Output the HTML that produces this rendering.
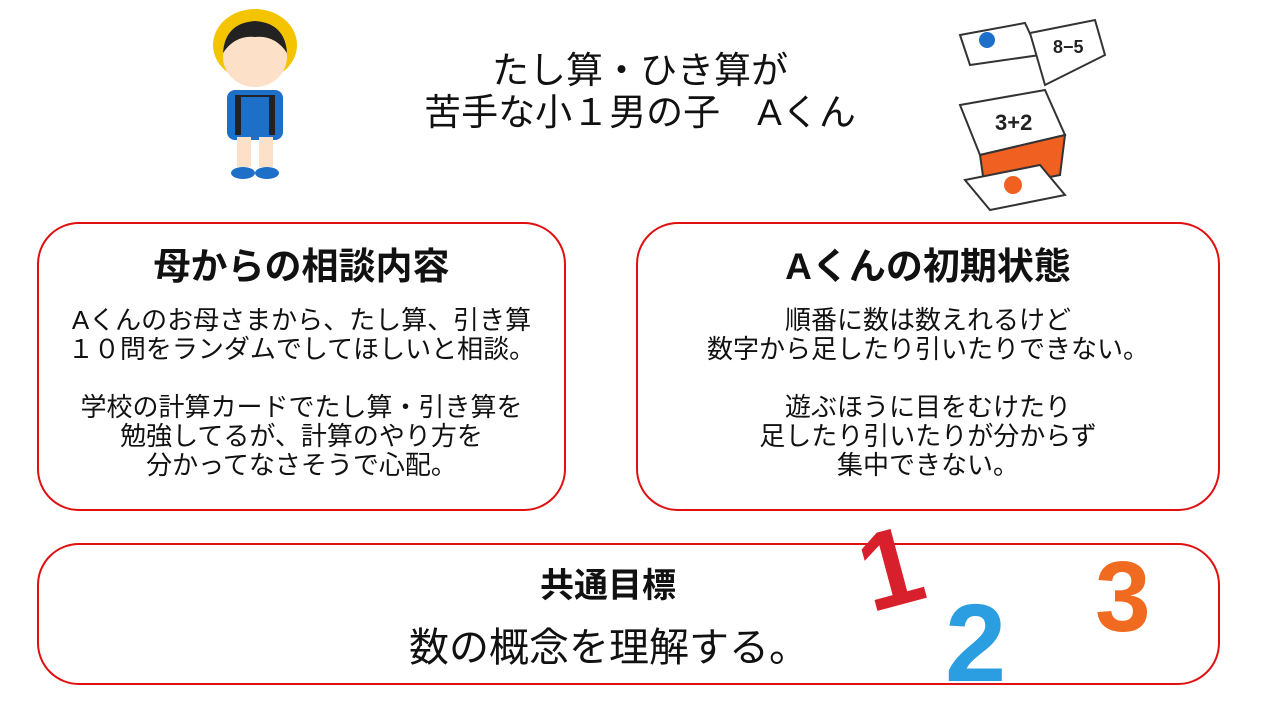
<!DOCTYPE html>
<html><head><meta charset="utf-8"><style>
*{margin:0;padding:0;box-sizing:border-box}
body{width:1280px;height:720px;background:#fff;position:relative;overflow:hidden;font-family:"Liberation Sans","Noto Sans CJK JP",sans-serif;color:#111}
.t{position:absolute;white-space:nowrap;text-align:center}
.box{position:absolute;border:2px solid #e01010;border-radius:42px;background:#fff}
</style></head><body>
<div class="t" style="left:340px;width:600px;top:50px;font-size:37px;line-height:42px">たし算・ひき算が<br>苦手な小１男の子　Aくん</div>

<div class="box" style="left:37px;top:222px;width:529px;height:289px"></div>
<div class="t" style="left:37px;width:529px;top:236px;font-size:37px;font-weight:bold">母からの相談内容</div>
<div class="t" style="left:37px;width:529px;top:306px;font-size:26px;line-height:29px">Aくんのお母さまから、たし算、引き算<br>１０問をランダムでしてほしいと相談。<br><br>学校の計算カードでたし算・引き算を<br>勉強してるが、計算のやり方を<br>分かってなさそうで心配。</div>

<div class="box" style="left:636px;top:222px;width:584px;height:289px"></div>
<div class="t" style="left:636px;width:584px;top:236px;font-size:37px;font-weight:bold">Aくんの初期状態</div>
<div class="t" style="left:636px;width:584px;top:306px;font-size:26px;line-height:29px">順番に数は数えれるけど<br>数字から足したり引いたりできない。<br><br>遊ぶほうに目をむけたり<br>足したり引いたりが分からず<br>集中できない。</div>

<div class="box" style="left:37px;top:543px;width:1183px;height:142px"></div>
<div class="t" style="left:408px;width:400px;top:558px;font-size:34px;font-weight:bold">共通目標</div>
<div class="t" style="left:359px;width:500px;top:615px;font-size:40px">数の概念を理解する。</div>

<!-- boy -->
<svg style="position:absolute;left:205px;top:5px" width="100" height="180">
<ellipse cx="50" cy="40" rx="42" ry="36" fill="#f5c400"/>
<ellipse cx="50" cy="52" rx="32" ry="30" fill="#fde0c8"/>
<path d="M18 48 Q20 18 50 16 Q80 18 82 48 Q70 30 50 32 Q30 30 18 48Z" fill="#222"/>
<rect x="22" y="85" width="56" height="50" rx="8" fill="#1e6fc8"/>
<rect x="30" y="90" width="40" height="40" fill="#222"/>
<rect x="36" y="92" width="28" height="40" fill="#1e6fc8"/>
<rect x="32" y="132" width="14" height="30" fill="#fde0c8"/><rect x="54" y="132" width="14" height="30" fill="#fde0c8"/>
<ellipse cx="38" cy="168" rx="12" ry="6" fill="#1e6fc8"/><ellipse cx="62" cy="168" rx="12" ry="6" fill="#1e6fc8"/>
</svg>

<!-- cards -->
<svg style="position:absolute;left:945px;top:15px" width="180" height="200">
<polygon points="15,20 80,8 95,40 25,50" fill="#fff" stroke="#333" stroke-width="2"/>
<circle cx="42" cy="25" r="8" fill="#1e6fc8"/>
<polygon points="85,18 150,5 160,40 100,70" fill="#fff" stroke="#333" stroke-width="2"/>
<text x="108" y="38" font-size="18" font-weight="bold" fill="#222" font-family="Liberation Sans">8−5</text>
<polygon points="15,90 100,75 120,120 35,140" fill="#fff" stroke="#333" stroke-width="2"/>
<polygon points="35,140 120,120 115,160 40,175" fill="#f06020" stroke="#333" stroke-width="2"/>
<text x="50" y="115" font-size="22" font-weight="bold" fill="#222" font-family="Liberation Sans">3+2</text>
<polygon points="20,165 95,150 120,180 45,195" fill="#fff" stroke="#333" stroke-width="2"/>
<circle cx="68" cy="170" r="9" fill="#f06020"/>
</svg>

<!-- numbers -->
<div class="t" style="left:860px;top:505px;font-size:110px;font-weight:bold;color:#d8202c;transform:rotate(-15deg)">1</div>
<div class="t" style="left:945px;top:580px;font-size:110px;font-weight:bold;color:#2a9ee0">2</div>
<div class="t" style="left:1095px;top:540px;font-size:100px;font-weight:bold;color:#f06a20">3</div>
</body></html>
